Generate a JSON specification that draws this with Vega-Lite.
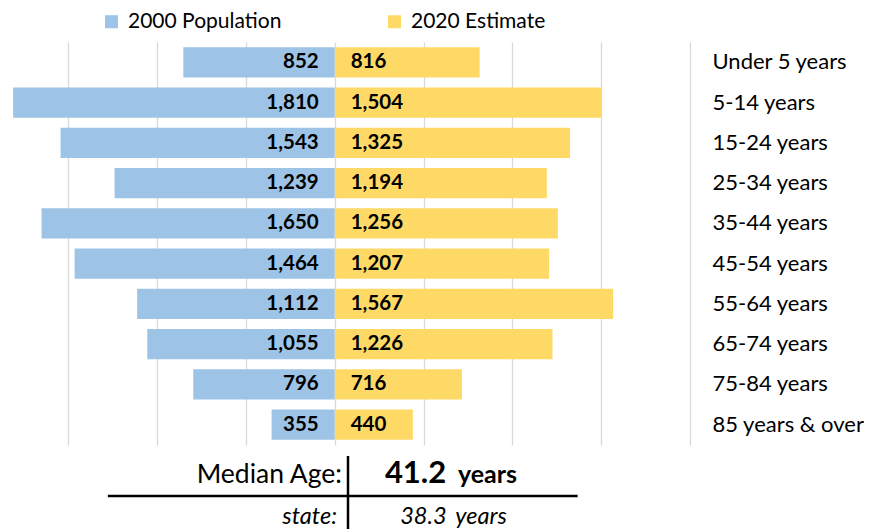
{
  "$schema": "https://vega.github.io/schema/vega-lite/v6.json",
  "padding": {"left": 0, "top": 11, "right": 0, "bottom": 0},
  "spacing": 0,
  "config": {"view": {"stroke": null}, "font": "Lato", "text": {"font": "Lato"}},
  "datasets": {
    "pop": [
      {"age": "Under 5 years", "series": "2000 Population", "value": 852},
      {"age": "5-14 years", "series": "2000 Population", "value": 1810},
      {"age": "15-24 years", "series": "2000 Population", "value": 1543},
      {"age": "25-34 years", "series": "2000 Population", "value": 1239},
      {"age": "35-44 years", "series": "2000 Population", "value": 1650},
      {"age": "45-54 years", "series": "2000 Population", "value": 1464},
      {"age": "55-64 years", "series": "2000 Population", "value": 1112},
      {"age": "65-74 years", "series": "2000 Population", "value": 1055},
      {"age": "75-84 years", "series": "2000 Population", "value": 796},
      {"age": "85 years & over", "series": "2000 Population", "value": 355},
      {"age": "Under 5 years", "series": "2020 Estimate", "value": 816},
      {"age": "5-14 years", "series": "2020 Estimate", "value": 1504},
      {"age": "15-24 years", "series": "2020 Estimate", "value": 1325},
      {"age": "25-34 years", "series": "2020 Estimate", "value": 1194},
      {"age": "35-44 years", "series": "2020 Estimate", "value": 1256},
      {"age": "45-54 years", "series": "2020 Estimate", "value": 1207},
      {"age": "55-64 years", "series": "2020 Estimate", "value": 1567},
      {"age": "65-74 years", "series": "2020 Estimate", "value": 1226},
      {"age": "75-84 years", "series": "2020 Estimate", "value": 716},
      {"age": "85 years & over", "series": "2020 Estimate", "value": 440}
    ],
    "median": [
      {"row": "county", "label": "Median Age:", "age": "41.2", "unit": "years"},
      {"row": "state", "label": "state:", "age": "38.3", "unit": "years"}
    ]
  },
  "vconcat": [
    {
      "width": 690,
      "height": 403,
      "data": {"name": "pop"},
      "encoding": {
        "y": {
          "field": "age", "type": "nominal",
          "sort": ["Under 5 years", "5-14 years", "15-24 years", "25-34 years", "35-44 years", "45-54 years", "55-64 years", "65-74 years", "75-84 years", "85 years & over"],
          "scale": {"paddingInner": 0.25, "paddingOuter": 0.13},
          "axis": {"orient": "right", "title": null, "domain": false, "ticks": false, "tickSize": 0, "labelPadding": 22, "labelAlign": "left", "labelFontSize": 22, "labelColor": "#000", "labelFont": "Lato"}
        }
      },
      "layer": [
        {
          "transform": [{"filter": "datum.series === '2020 Estimate'"}],
          "mark": {"type": "bar"},
          "encoding": {
            "x": {"field": "value", "type": "quantitative", "scale": {"domain": [-1884, 2000], "nice": false, "zero": false},
              "axis": {"values": [-1500, -1000, -500, 0, 500, 1000, 1500, 2000], "grid": true, "labels": false, "ticks": false, "domain": false, "title": null, "gridColor": "#D9D9D9", "gridWidth": 1.3}},
            "color": {"field": "series", "type": "nominal",
              "scale": {"domain": ["2000 Population", "2020 Estimate"], "range": ["#9DC3E6", "#FFD966"]},
              "legend": {"orient": "none", "legendX": 101, "legendY": -31, "direction": "horizontal", "title": null, "symbolType": "square", "symbolSize": 169, "symbolStrokeWidth": 0, "labelFontSize": 21, "labelFont": "Lato", "labelColor": "#000", "columnPadding": 102, "labelOffset": 6, "padding": 0}}
          }
        },
        {
          "transform": [{"filter": "datum.series === '2000 Population'"}],
          "mark": {"type": "bar"},
          "encoding": {
            "x": {"field": "value", "type": "quantitative", "scale": {"domain": [-2000, 1884], "reverse": true, "nice": false, "zero": false}, "axis": null},
            "color": {"field": "series", "type": "nominal"}
          }
        },
        {
          "transform": [{"filter": "datum.series === '2000 Population'"}],
          "mark": {"type": "text", "align": "right", "baseline": "middle", "dx": -16, "fontSize": 20.5, "fontWeight": "bold", "color": "#000"},
          "encoding": {
            "x": {"datum": 0, "type": "quantitative", "scale": {"domain": [-1884, 2000], "nice": false, "zero": false}, "axis": null},
            "text": {"field": "value", "type": "quantitative", "format": ",d"}
          }
        },
        {
          "transform": [{"filter": "datum.series === '2020 Estimate'"}],
          "mark": {"type": "text", "align": "left", "baseline": "middle", "dx": 16, "fontSize": 20.5, "fontWeight": "bold", "color": "#000"},
          "encoding": {
            "x": {"datum": 0, "type": "quantitative", "scale": {"domain": [-1884, 2000], "nice": false, "zero": false}, "axis": null},
            "text": {"field": "value", "type": "quantitative", "format": ",d"}
          }
        }
      ],
      "resolve": {"scale": {"x": "independent"}}
    },
    {
      "width": 696,
      "height": 84,
      "data": {"name": "median"},
      "encoding": {
        "x": {"type": "quantitative", "scale": {"domain": [0, 100], "nice": false, "zero": false}, "axis": null},
        "y": {"type": "quantitative", "scale": {"domain": [0, 84], "reverse": true, "nice": false, "zero": false}, "axis": null}
      },
      "layer": [
        {
          "transform": [{"filter": "datum.row === 'county'"}],
          "mark": {"type": "rule", "strokeWidth": 2.5, "color": "#000"},
          "encoding": {"x": {"datum": 50, "type": "quantitative"}, "y": {"datum": 11, "type": "quantitative"}, "y2": {"datum": 84}}
        },
        {
          "transform": [{"filter": "datum.row === 'county'"}],
          "mark": {"type": "rule", "strokeWidth": 2.5, "color": "#000"},
          "encoding": {"y": {"datum": 51, "type": "quantitative"}, "x": {"datum": 15.5, "type": "quantitative"}, "x2": {"datum": 83}}
        },
        {
          "transform": [{"filter": "datum.row === 'county'"}],
          "mark": {"type": "text", "align": "right", "baseline": "alphabetic", "dx": -6, "fontSize": 26.5, "color": "#000"},
          "encoding": {"x": {"datum": 50, "type": "quantitative"}, "y": {"datum": 38, "type": "quantitative"}, "text": {"field": "label"}}
        },
        {
          "transform": [{"filter": "datum.row === 'county'"}],
          "mark": {"type": "text", "align": "left", "baseline": "alphabetic", "fontSize": 31, "fontWeight": "bold", "color": "#000"},
          "encoding": {"x": {"datum": 55.3, "type": "quantitative"}, "y": {"datum": 38, "type": "quantitative"}, "text": {"field": "age"}}
        },
        {
          "transform": [{"filter": "datum.row === 'county'"}],
          "mark": {"type": "text", "align": "left", "baseline": "alphabetic", "fontSize": 25, "fontWeight": "bold", "color": "#000"},
          "encoding": {"x": {"datum": 65.8, "type": "quantitative"}, "y": {"datum": 38, "type": "quantitative"}, "text": {"field": "unit"}}
        },
        {
          "transform": [{"filter": "datum.row === 'state'"}],
          "mark": {"type": "text", "align": "right", "baseline": "alphabetic", "dx": -11, "fontSize": 23.5, "fontStyle": "italic", "color": "#000"},
          "encoding": {"x": {"datum": 50, "type": "quantitative"}, "y": {"datum": 79, "type": "quantitative"}, "text": {"field": "label"}}
        },
        {
          "transform": [{"filter": "datum.row === 'state'"}],
          "mark": {"type": "text", "align": "left", "baseline": "alphabetic", "fontSize": 23.5, "fontStyle": "italic", "color": "#000"},
          "encoding": {"x": {"datum": 57.5, "type": "quantitative"}, "y": {"datum": 79, "type": "quantitative"}, "text": {"field": "age"}}
        },
        {
          "transform": [{"filter": "datum.row === 'state'"}],
          "mark": {"type": "text", "align": "left", "baseline": "alphabetic", "fontSize": 23.5, "fontStyle": "italic", "color": "#000"},
          "encoding": {"x": {"datum": 65.4, "type": "quantitative"}, "y": {"datum": 79, "type": "quantitative"}, "text": {"field": "unit"}}
        }
      ]
    }
  ]
}
